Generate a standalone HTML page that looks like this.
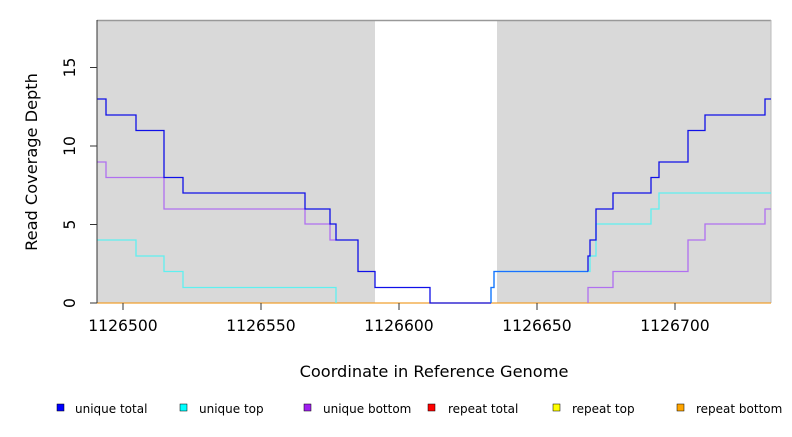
<!DOCTYPE html>
<html><head><meta charset="utf-8"><style>
body{margin:0;background:#fff;width:792px;height:432px;overflow:hidden}
text{font-family:"DejaVu Sans","Liberation Sans",sans-serif;fill:#000}
</style></head><body>
<svg width="792" height="432" viewBox="0 0 792 432">
<rect x="97" y="20" width="278" height="283" fill="#d9d9d9"/>
<rect x="497" y="20" width="274" height="283" fill="#d9d9d9"/>
<line x1="97" y1="20.5" x2="771" y2="20.5" stroke="#999" stroke-width="1.5"/>
<line x1="771" y1="20" x2="771" y2="303" stroke="#bbb" stroke-width="1"/>
<g fill="none" stroke-width="1.3">
<line x1="97" y1="303" x2="771" y2="303" stroke="#f0a030"/>
<polyline stroke="#5ff0f0" points="97,240 136,240 136,256 164,256 164,271.5 183,271.5 183,287.5 336,287.5 336,303"/>
<polyline stroke="#5ff0f0" points="491,303 491,287.5 494,287.5 494,271.5 590,271.5 590,256 596,256 596,224 651,224 651,209 659,209 659,193 771,193"/>
<polyline stroke="#b070f0" points="97,162 106,162 106,177.5 164,177.5 164,209 305,209 305,224 330,224 330,240 336,240"/>
<polyline stroke="#b070f0" points="588,303 588,287.5 613,287.5 613,271.5 688,271.5 688,240 705,240 705,224 765,224 765,209 771,209"/>
<polyline stroke="#1010e8" points="97,99 106,99 106,115 136,115 136,130.5 164,130.5 164,177.5 183,177.5 183,193 305,193 305,209 330,209 330,224 336,224 336,240 358,240 358,271.5 375,271.5 375,287.5 430,287.5 430,303 491,303"/>
<polyline stroke="#1a70ff" points="491,303 491,287.5 494,287.5 494,271.5 588,271.5"/>
<polyline stroke="#1010e8" points="588,271.5 588,256 590,256 590,240 596,240 596,209 613,209 613,193 651,193 651,177.5 659,177.5 659,162 688,162 688,130.5 705,130.5 705,115 765,115 765,99 771,99"/>
</g>
<g stroke="#333" stroke-width="1">
<line x1="97" y1="20" x2="97" y2="303"/>
<line x1="90" y1="303" x2="97" y2="303"/>
<line x1="90" y1="224.5" x2="97" y2="224.5"/>
<line x1="90" y1="146" x2="97" y2="146"/>
<line x1="90" y1="67.5" x2="97" y2="67.5"/>
<line x1="123" y1="303" x2="123" y2="310"/>
<line x1="261" y1="303" x2="261" y2="310"/>
<line x1="399" y1="303" x2="399" y2="310"/>
<line x1="537" y1="303" x2="537" y2="310"/>
<line x1="675" y1="303" x2="675" y2="310"/>
</g>
<g font-size="15.6" text-anchor="middle">
<text transform="translate(75,303) rotate(-90)">0</text>
<text transform="translate(75,224.5) rotate(-90)">5</text>
<text transform="translate(75,146) rotate(-90)">10</text>
<text transform="translate(75,67.5) rotate(-90)">15</text>
<text x="123" y="331">1126500</text>
<text x="261" y="331">1126550</text>
<text x="399" y="331">1126600</text>
<text x="537" y="331">1126650</text>
<text x="675" y="331">1126700</text>
</g>
<g font-size="16.2" text-anchor="middle">
<text x="434" y="377">Coordinate in Reference Genome</text>
<text transform="translate(37,162) rotate(-90)">Read Coverage Depth</text>
</g>
<g font-size="12">
<rect x="57" y="404" width="7" height="7" fill="#0000ff" stroke="#000" stroke-width="0.5"/><text x="75" y="413">unique total</text>
<rect x="180" y="404" width="7" height="7" fill="#00ffff" stroke="#000" stroke-width="0.5"/><text x="199" y="413">unique top</text>
<rect x="304" y="404" width="7" height="7" fill="#a020f0" stroke="#000" stroke-width="0.5"/><text x="323" y="413">unique bottom</text>
<rect x="428" y="404" width="7" height="7" fill="#ff0000" stroke="#000" stroke-width="0.5"/><text x="448" y="413">repeat total</text>
<rect x="553" y="404" width="7" height="7" fill="#ffff00" stroke="#000" stroke-width="0.5"/><text x="572" y="413">repeat top</text>
<rect x="677" y="404" width="7" height="7" fill="#ffa500" stroke="#000" stroke-width="0.5"/><text x="696" y="413">repeat bottom</text>
</g>
</svg>
</body></html>
